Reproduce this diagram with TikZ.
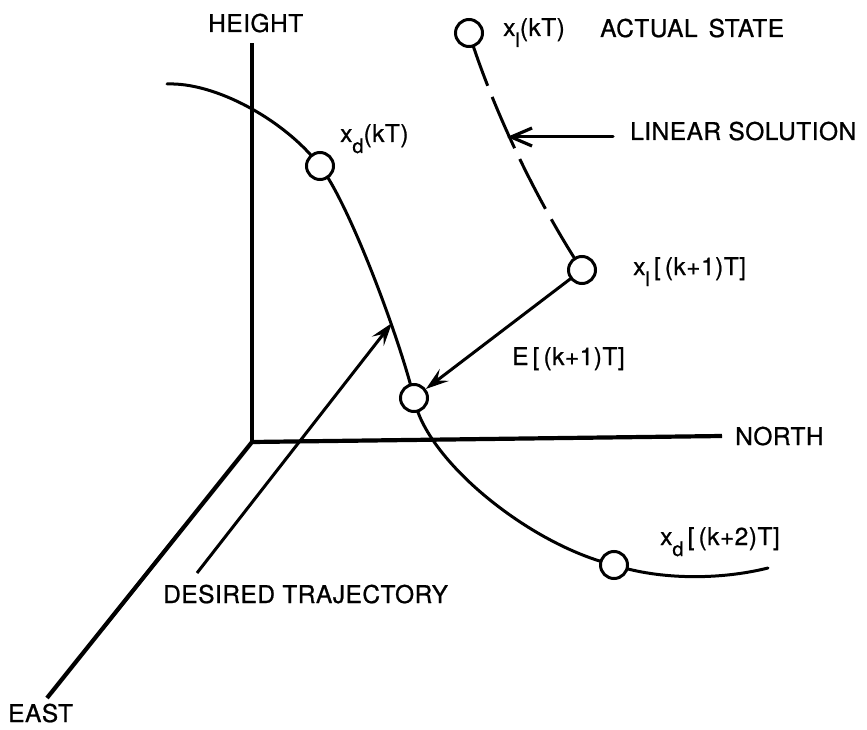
\documentclass[tikz,border=0pt]{standalone}
\usepackage{fontspec}
\setmainfont{TeX Gyre Heros}[LetterSpace=2,FakeBold=0.8]
\usetikzlibrary{arrows.meta}
% lowered, slightly smaller subscript as used on the state labels
\newcommand\lowsub[1]{\raisebox{-11pt}{\fontsize{20}{20}\selectfont #1}}
\pgfdeclarelayer{bg}
\pgfsetlayers{bg,main}
\begin{document}
\begin{tikzpicture}[x=1pt,y=-1pt,
  axis/.style={line width=4.2pt},
  curve/.style={line width=3pt, line cap=round},
  statept/.style={circle, draw, fill=white, line width=3pt, minimum size=27pt, inner sep=0pt},
  lbl/.style={anchor=base west, inner sep=0pt, font=\fontsize{24.5}{28}\selectfont},
  swept/.style={-{Stealth[length=23pt,width=15pt,inset=9pt]}},
  barb/.style={-{Straight Barb[length=21pt,width=18pt,line width=3.2pt]}}
]
\useasboundingbox (0,0) rectangle (867,730);

% coordinate axes
\coordinate (O) at (252,442);
\coordinate (up) at (252,43);
\coordinate (north) at (722,436);
\coordinate (east) at (47,698);
\draw[axis] (O) -- (up);
\draw[axis] (O) -- (north);
\draw[axis] (O) -- (east);

% state points
\node[statept] (xl0) at (469,33) {};
\node[statept] (xdk) at (320,166) {};
\node[statept] (xl1) at (582,270) {};
\node[statept] (xdm) at (414,398) {};
\node[statept] (xdk2) at (614,565) {};

% desired trajectory and linear solution, behind the state points
\begin{pgfonlayer}{bg}
\coordinate (dstart) at (167,84);
\coordinate (dend) at (768,568);
\draw[curve] (dstart) .. controls (215,82) and (285,120) .. (xdk.center)
  .. controls (350,205) and (400,340) .. (xdm.center)
  .. controls (425,460) and (530,545) .. (xdk2.center)
  .. controls (660,580) and (720,580) .. (dend);
\draw[curve, line cap=butt, dash pattern=on 56pt off 12pt]
  (xl0.center) .. controls (490,100) and (530,190) .. (xl1.center);
\end{pgfonlayer}

% error vector
\draw[curve, swept] (xl1) -- (xdm);

% pointer arrows
\coordinate (lsfrom) at (613,137);
\coordinate (lsto) at (507,137);
\draw[curve, barb] (lsfrom) -- (lsto);
\coordinate (dtfrom) at (197,573);
\coordinate (dtto) at (392,323);
\draw[curve, line cap=butt, swept] (dtfrom) -- (dtto);

% labels
\node[lbl] (hgt) at (208,32) {HEIGHT};
\node[lbl] (nth) at (735,445) {NORTH};
\node[lbl] (est) at (8,722) {EAST};
\node[lbl] (lxl0) at (503,36) {x\lowsub{l}(kT)};
\node[lbl] (act) at (600,37) {ACTUAL\hspace{0.45em}STATE};
\node[lbl] (lin) at (630,140) {LINEAR SOLUTION};
\node[lbl] (lxdk) at (340,142) {x\lowsub{d}(kT)};
\node[lbl] (lxl1) at (633,275) {x\lowsub{l}\,[\,(k+1)T]};
\node[lbl] (lerr) at (512,365) {E\,[\,(k+1)T]};
\node[lbl] (lxdk2) at (660,545) {x\lowsub{d}\,[\,(k+2)T]};
\node[lbl] (ldes) at (163,603) {DESIRED TRAJECTORY};
\end{tikzpicture}
\end{document}
